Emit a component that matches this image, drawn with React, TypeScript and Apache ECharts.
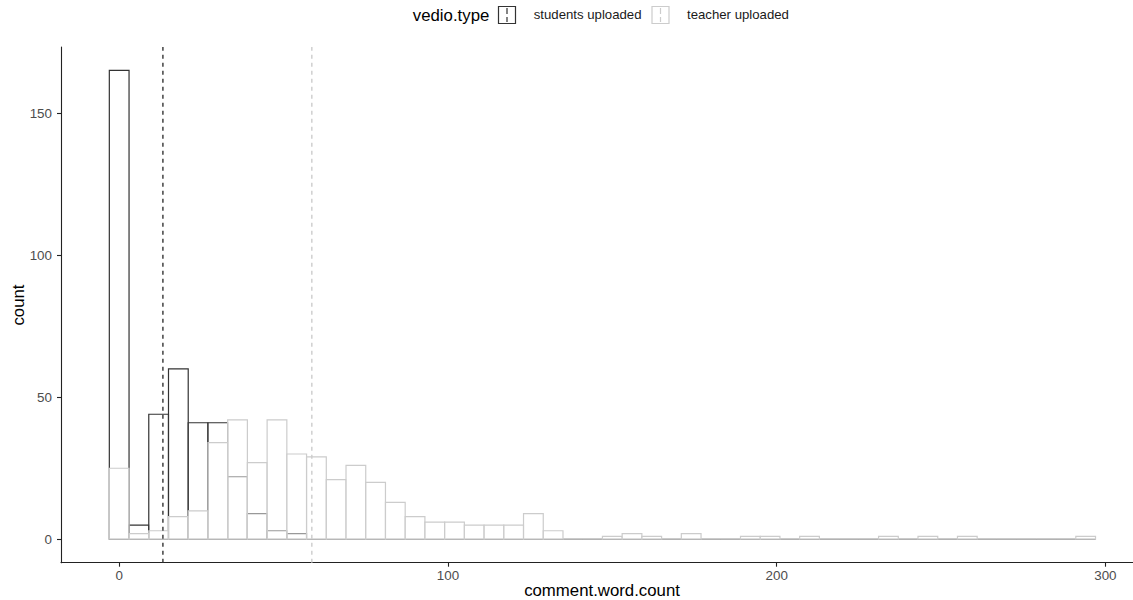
import React, { useEffect, useRef } from "react";
import * as echarts from "echarts";

// ---- data ----
const binWidth = 6;
const binCenters = [
  0, 6, 12, 18, 24, 30, 36, 42, 48, 54,
  60, 66, 72, 78, 84, 90, 96, 102, 108, 114,
  120, 126, 132, 138, 144, 150, 156, 162, 168, 174,
  180, 186, 192, 198, 204, 210, 216, 222, 228, 234,
  240, 246, 252, 258, 264, 270, 276, 282, 288, 294,
];
const studentsCounts = [
  165, 5, 44, 60, 41, 41, 22, 9, 3, 2,
  0, 0, 0, 0, 0, 0, 0, 0, 0, 0,
  0, 0, 0, 0, 0, 0, 0, 0, 0, 0,
  0, 0, 0, 0, 0, 0, 0, 0, 0, 0,
  0, 0, 0, 0, 0, 0, 0, 0, 0, 0,
];
const teacherCounts = [
  25, 2, 3, 8, 10, 34, 42, 27, 42, 30,
  29, 21, 26, 20, 13, 8, 6, 6, 5, 5,
  5, 9, 3, 0, 0, 1, 2, 1, 0, 2,
  0, 0, 1, 1, 0, 1, 0, 0, 0, 1,
  0, 1, 0, 1, 0, 0, 0, 0, 0, 1,
];
const seriesNames = ["students uploaded", "teacher uploaded"];
const studentsMean = 13.3;
const teacherMean = 58.6;
const xTicks = [0, 100, 200, 300];
const yTicks = [0, 50, 100, 150];
const xTitle = "comment.word.count";
const yTitle = "count";
const legendTitle = "vedio.type";

// ---- style ----
const DARK = "#333333";
const LIGHT = "#cccccc";
const FONT = "Liberation Sans, Arial, Helvetica, sans-serif";
const X_MIN = -17.7;
const X_MAX = 308.4;
const Y_MIN = -8.25;
const Y_MAX = 173.25;

function makeRender(stroke: string, fill: string) {
  return (params: any, api: any) => {
    const c = api.value(0);
    const v = api.value(1);
    const p0 = api.coord([c - binWidth / 2, v]);
    const p1 = api.coord([c + binWidth / 2, 0]);
    return {
      type: "rect",
      shape: { x: p0[0], y: p0[1], width: p1[0] - p0[0], height: p1[1] - p0[1] },
      style: { fill, stroke, lineWidth: 1.2 },
    };
  };
}

export default function App() {
  const ref = useRef<HTMLDivElement>(null);
  useEffect(() => {
    if (!ref.current) return;
    const chart = echarts.init(ref.current, null, { renderer: "svg" });
    const studentsData = binCenters.map((c, i) => [c, studentsCounts[i]]);
    const teacherData = binCenters.map((c, i) => [c, teacherCounts[i]]);
    const axisLineStyle = { color: "#222222", width: 1.1 };
    chart.setOption({
      animation: false,
      backgroundColor: "#ffffff",
      grid: { left: 61, right: 0, top: 47, bottom: 37.3, containLabel: false },
      xAxis: {
        type: "value",
        min: X_MIN,
        max: X_MAX,
        axisLine: { show: true, onZero: false, lineStyle: axisLineStyle },
        axisTick: { show: true, length: 4, customValues: xTicks, lineStyle: axisLineStyle },
        axisLabel: {
          customValues: xTicks,
          color: "#4d4d4d",
          fontSize: 13.4,
          fontFamily: FONT,
          margin: 6,
        },
        splitLine: { show: false },
      },
      yAxis: {
        type: "value",
        min: Y_MIN,
        max: Y_MAX,
        axisLine: { show: true, onZero: false, lineStyle: axisLineStyle },
        axisTick: { show: true, length: 4, customValues: yTicks, lineStyle: axisLineStyle },
        axisLabel: {
          customValues: yTicks,
          color: "#4d4d4d",
          fontSize: 13.4,
          fontFamily: FONT,
          margin: 9,
        },
        splitLine: { show: false },
      },
      series: [
        {
          name: seriesNames[0],
          type: "custom",
          renderItem: makeRender(DARK, "rgba(255,255,255,0.5)"),
          data: studentsData,
          z: 2,
          silent: true,
        },
        {
          name: seriesNames[1],
          type: "custom",
          renderItem: makeRender(LIGHT, "rgba(255,255,255,0.5)"),
          data: teacherData,
          z: 3,
          silent: true,
        },
        {
          name: seriesNames[0] + " mean",
          type: "line",
          data: [[studentsMean, Y_MIN], [studentsMean, Y_MAX]],
          symbol: "none",
          lineStyle: { color: DARK, width: 1.4, type: [4, 4] },
          z: 4,
          silent: true,
        },
        {
          name: seriesNames[1] + " mean",
          type: "line",
          data: [[teacherMean, Y_MIN], [teacherMean, Y_MAX]],
          symbol: "none",
          lineStyle: { color: LIGHT, width: 1.4, type: [4, 4] },
          z: 4,
          silent: true,
        },
      ],
      graphic: [
        {
          type: "text",
          left: 412.8,
          top: 6.5,
          style: { text: legendTitle, fontSize: 16.8, fontFamily: FONT, fill: "#000000" },
        },
        {
          type: "rect",
          shape: { x: 498.5, y: 6.5, width: 17, height: 17 },
          style: { fill: "none", stroke: DARK, lineWidth: 1.2 },
        },
        {
          type: "line",
          shape: { x1: 507, y1: 8, x2: 507, y2: 22 },
          style: { stroke: DARK, lineWidth: 1.2, lineDash: [6, 3] },
        },
        {
          type: "text",
          left: 533.7,
          top: 8,
          style: { text: seriesNames[0], fontSize: 13.2, fontFamily: FONT, fill: "#1a1a1a" },
        },
        {
          type: "rect",
          shape: { x: 652, y: 6.5, width: 17, height: 17 },
          style: { fill: "none", stroke: LIGHT, lineWidth: 1.2 },
        },
        {
          type: "line",
          shape: { x1: 660.5, y1: 8, x2: 660.5, y2: 22 },
          style: { stroke: LIGHT, lineWidth: 1.2, lineDash: [6, 3] },
        },
        {
          type: "text",
          left: 687,
          top: 8,
          style: { text: seriesNames[1], fontSize: 13.2, fontFamily: FONT, fill: "#1a1a1a" },
        },
        {
          type: "text",
          x: 602,
          y: 590,
          style: {
            text: xTitle,
            fontSize: 16.8,
            fontFamily: FONT,
            fill: "#000000",
            align: "center",
            verticalAlign: "middle",
          },
        },
        {
          type: "text",
          x: 18,
          y: 305,
          rotation: Math.PI / 2,
          style: {
            text: yTitle,
            fontSize: 16.8,
            fontFamily: FONT,
            fill: "#000000",
            align: "center",
            verticalAlign: "middle",
          },
        },
      ],
    });
    return () => chart.dispose();
  }, []);
  return (
    <div
      ref={ref}
      style={{ position: "fixed", left: 0, top: 0, width: 1133, height: 600, background: "#fff" }}
    />
  );
}
